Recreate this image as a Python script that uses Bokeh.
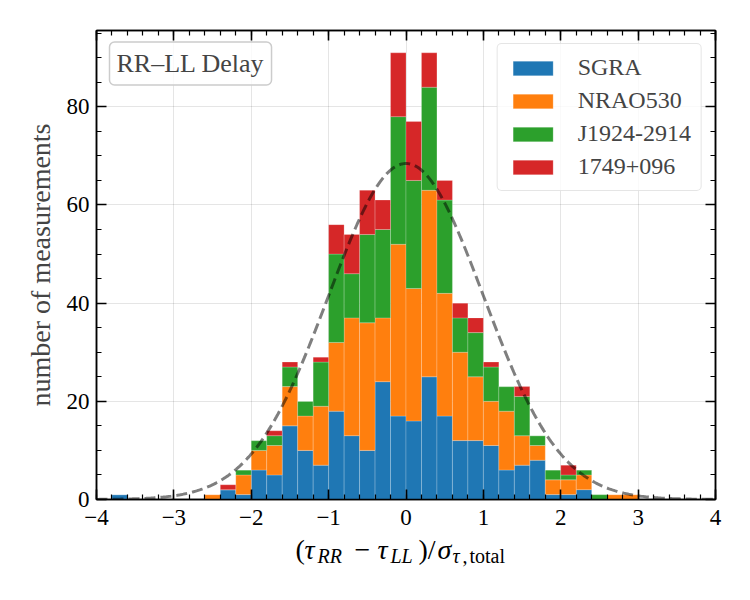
import numpy as np
from bokeh.plotting import figure
from bokeh.layouts import column
from bokeh.models import (Range1d, FixedTicker, LinearAxis, Label, Legend, LegendItem,
                          ColumnDataSource, CustomJSTickFormatter)
from bokeh.embed import file_html
from bokeh.resources import INLINE

# ---------------- data ----------------
bin_left = [-3.8, -3.6, -3.4, -3.2, -3.0, -2.8, -2.6, -2.4, -2.2, -2.0,
            -1.8, -1.6, -1.4, -1.2, -1.0, -0.8, -0.6, -0.4, -0.2, 0.0,
            0.2, 0.4, 0.6, 0.8, 1.0, 1.2, 1.4, 1.6, 1.8, 2.0,
            2.2, 2.4, 2.6, 2.8]
sgra = [1, 0, 0, 0, 0, 0, 0, 2, 1, 6,
        5, 15, 10, 7, 18, 13, 10, 24, 17, 16,
        25, 17, 12, 12, 11, 6, 7, 8, 1, 1,
        2, 0, 0, 0]
nrao530 = [0, 0, 0, 0, 0, 0, 1, 0, 4, 4,
           6, 8, 7, 12, 14, 24, 26, 13, 35, 27,
           38, 25, 18, 13, 9, 12, 6, 3, 3, 3,
           3, 0, 1, 1]
j1924 = [0, 0, 0, 0, 0, 0, 0, 0, 1, 2,
         2, 4, 3, 9, 18, 9, 18, 18, 26, 22,
         21, 19, 7, 9, 7, 5, 8, 2, 2, 1,
         1, 1, 0, 0]
b1749 = [0, 0, 0, 0, 0, 0, 0, 1, 0, 0,
         1, 1, 0, 1, 6, 8, 9, 6, 13, 12,
         7, 4, 3, 3, 1, 0, 2, 0, 0, 2,
         0, 0, 0, 0]
series_names = ["SGRA", "NRAO530", "J1924-2914", "1749+096"]
series_colors = ["#1f77b4", "#ff7f0e", "#2ca02c", "#d62728"]
bin_width = 0.2

x_ticks = [-4, -3, -2, -1, 0, 1, 2, 3, 4]
y_ticks = [0, 20, 40, 60, 80]

# ---------------- figure ----------------
FONT = "Liberation Serif"
XMIN, XMAX = -4.0, 4.0
total = np.array(sgra) + np.array(nrao530) + np.array(j1924) + np.array(b1749)
YMAX = total.max() * 1.05

TOP_H = 535
p = figure(width=750, height=TOP_H, x_range=Range1d(XMIN, XMAX), y_range=Range1d(0, YMAX),
           output_backend="svg", toolbar_location=None,
           min_border_left=96, min_border_right=35, min_border_top=30, min_border_bottom=36)
p.background_fill_color = "white"
p.border_fill_color = "white"
p.outline_line_color = "black"
p.outline_line_width = 1.5

centers = [b + bin_width / 2 for b in bin_left]
src = ColumnDataSource(dict(x=centers, SGRA=sgra, NRAO530=nrao530,
                            J1924=j1924, B1749=b1749))
stackers = ["SGRA", "NRAO530", "J1924", "B1749"]
rends = p.vbar_stack(stackers, x="x", width=bin_width, source=src,
                     fill_color=series_colors, line_color="white",
                     line_alpha=0.35, line_width=0.6)

# gaussian reference curve scaled to the total counts
N = total.sum()
xc = np.linspace(XMIN, XMAX, 400)
yc = N * bin_width / np.sqrt(2 * np.pi) * np.exp(-0.5 * xc ** 2)
p.line(xc, yc, line_color="black", line_alpha=0.5, line_width=3, line_dash="11 5")

# grid
p.xgrid.ticker = FixedTicker(ticks=x_ticks)
p.ygrid.ticker = FixedTicker(ticks=y_ticks)
for g in (p.xgrid, p.ygrid):
    g.grid_line_color = "black"
    g.grid_line_alpha = 0.1
    g.grid_line_width = 1

x_minor = [round(-4 + 0.2 * i, 1) for i in range(41)]
y_minor = [5 * i for i in range(20)]

fmt = CustomJSTickFormatter(code="return tick < 0 ? '\u2212' + Math.abs(tick) : String(tick);")
blank = CustomJSTickFormatter(code="return '';")

def style_axis(ax, ticks, minor, show):
    ax.ticker = FixedTicker(ticks=ticks, minor_ticks=minor)
    ax.major_tick_in = 10
    ax.major_tick_out = 0
    ax.minor_tick_in = 5
    ax.minor_tick_out = 0
    ax.major_tick_line_width = 1.6
    ax.minor_tick_line_width = 1.2
    ax.major_tick_line_color = "black"
    ax.minor_tick_line_color = "black"
    ax.axis_line_width = 1.5
    ax.axis_line_color = "black"
    ax.major_label_text_font = FONT
    ax.major_label_text_font_size = "23px"
    ax.major_label_text_color = "black"
    ax.formatter = fmt if show else blank
    if not show:
        ax.major_label_standoff = 0

xb = p.xaxis[0]
yl = p.yaxis[0]
style_axis(xb, x_ticks, x_minor, True)
style_axis(yl, y_ticks, y_minor, True)
xb.major_label_standoff = 10
yl.major_label_standoff = 7
yl.axis_label = "number of measurements"
yl.axis_label_text_font = FONT
yl.axis_label_text_font_size = "28px"
yl.axis_label_text_font_style = "normal"
yl.axis_label_standoff = 8

xt = LinearAxis()
yr = LinearAxis()
style_axis(xt, x_ticks, x_minor, False)
style_axis(yr, y_ticks, y_minor, False)
p.add_layout(xt, "above")
p.add_layout(yr, "right")

# legend
items = [LegendItem(label=n, renderers=[r]) for n, r in zip(series_names, rends)]
leg = Legend(items=items, location="top_right", margin=13, padding=10, spacing=6,
             glyph_width=50, glyph_height=18, label_standoff=20,
             label_text_font=FONT, label_text_font_size="24px",
             border_line_color="#cccccc", border_line_width=1.5, border_radius=5,
             background_fill_color="white", background_fill_alpha=0.8)
p.add_layout(leg)

# screen px -> data helpers for text placement
FL, FR, FT, FB = 96, 715, 30, 499
def dx(sx):
    return XMIN + (sx - FL) * (XMAX - XMIN) / (FR - FL)
def dy(sy):
    return (FB - sy) * YMAX / (FB - FT)

# title box
p.add_layout(Label(x=dx(109), y=dy(63), text="RR\u2013LL Delay", text_font=FONT,
                   text_font_size="26px", text_baseline="alphabetic", text_align="left",
                   padding=7, border_radius=5, border_line_color="#cccccc",
                   border_line_width=1.5, background_fill_color="white",
                   background_fill_alpha=0.8))

# ---------------- x-axis label strip (math-like label built from pieces) ----------------
# (the strip's frame is aligned with the main frame by the column layout)
BOT_H = 600 - TOP_H
p2 = figure(width=750, height=BOT_H, x_range=Range1d(XMIN, XMAX), y_range=Range1d(0, BOT_H),
            output_backend="svg", toolbar_location=None, min_border=0)
p2.axis.visible = False
p2.grid.visible = False
p2.outline_line_color = None
p2.background_fill_color = "white"
p2.border_fill_color = "white"

MB, SB = 549, 555   # baselines (page px) of main text and subscripts
pieces = [
    ("(", "normal", 28, 295, MB),
    ("\u03c4", "italic", 28, 304, MB),
    ("RR", "italic", 20, 317, SB),
    ("\u2212", "normal", 28, 354, MB),
    ("\u03c4", "italic", 28, 377, MB),
    ("LL", "italic", 20, 390, SB),
    (")/", "normal", 28, 418, MB),
    ("\u03c3", "italic", 28, 437, MB),
    ("\u03c4", "italic", 20, 452, SB),
    (",", "normal", 20, 462, SB),
    ("total", "normal", 20, 469, SB),
]
for txt, sty, fs, sx, sy in pieces:
    p2.add_layout(Label(x=dx(sx), y=600 - sy, text=txt, text_font=FONT,
                        text_font_size=f"{fs}px", text_font_style=sty,
                        text_baseline="alphabetic", text_align="left", text_color="black"))

layout = column(p, p2, spacing=0)
open("out.html", "w").write(file_html(layout, INLINE))
